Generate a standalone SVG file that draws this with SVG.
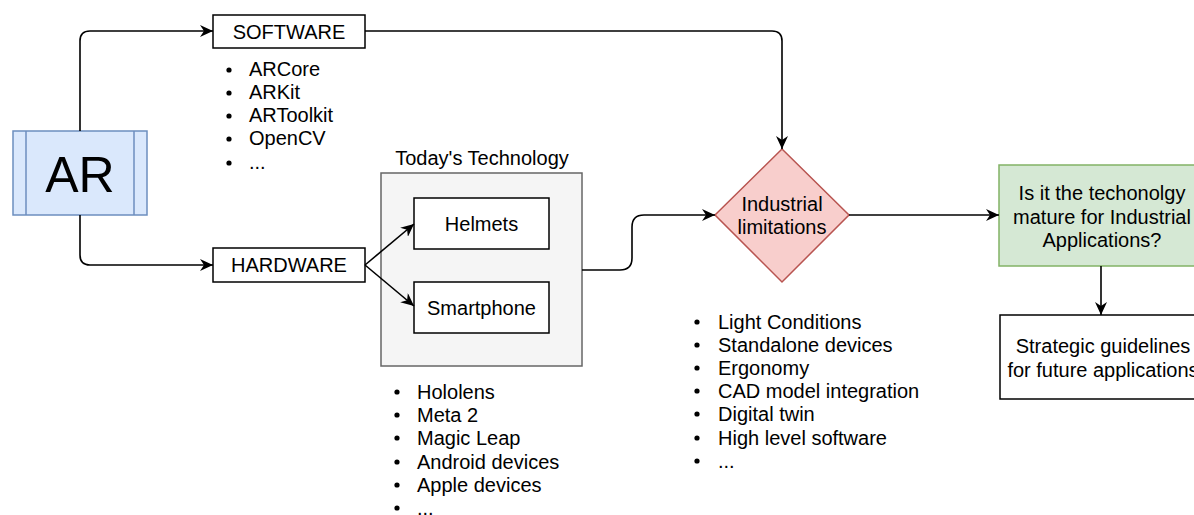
<svg xmlns="http://www.w3.org/2000/svg" width="1194" height="515" viewBox="0 0 1194 515">
<style>
text{font-family:"Liberation Sans",Arial,sans-serif;font-size:20px;fill:#000}
.c{text-anchor:middle}
.box{fill:#fff;stroke:#000;stroke-width:1.5}
.ln{fill:none;stroke:#000;stroke-width:1.6}
.arr{marker-end:url(#ah)}
.dot{fill:#000}
</style>
<defs>
<marker id="ah" markerUnits="userSpaceOnUse" markerWidth="14" markerHeight="12" refX="13" refY="6" orient="auto">
<path d="M0,0 L13,6 L0,12 L4,6 Z" fill="#000"/>
</marker>
</defs>
<rect width="1194" height="515" fill="#fff"/>
<g id="ar">
<rect x="13" y="131" width="134" height="84" fill="#dae8fc" stroke="#6c8ebf" stroke-width="1.5"/>
<line x1="26" y1="131" x2="26" y2="215" stroke="#6c8ebf" stroke-width="1.5"/>
<line x1="134" y1="131" x2="134" y2="215" stroke="#6c8ebf" stroke-width="1.5"/>
<text class="c" x="80" y="192" style="font-size:50px">AR</text>
</g>
<g id="software">
<rect class="box" x="213" y="15" width="152" height="33"/>
<text class="c" x="289" y="39">SOFTWARE</text>
</g>
<g id="software-list">
<circle class="dot" cx="229" cy="70" r="2.6"/><text x="249" y="76">ARCore</text>
<circle class="dot" cx="229" cy="93" r="2.6"/><text x="249" y="99">ARKit</text>
<circle class="dot" cx="229" cy="116" r="2.6"/><text x="249" y="122">ARToolkit</text>
<circle class="dot" cx="229" cy="139" r="2.6"/><text x="249" y="145">OpenCV</text>
<circle class="dot" cx="229" cy="163" r="2.6"/><text x="249" y="169">...</text>
</g>
<g id="hardware">
<rect class="box" x="213" y="248" width="152" height="34"/>
<text class="c" x="289" y="272">HARDWARE</text>
</g>
<g id="todays-technology">
<text class="c" x="482" y="165">Today's Technology</text>
<rect x="381" y="173" width="201" height="193" fill="#f5f5f5" stroke="#666" stroke-width="1.5"/>
</g>
<g id="helmets">
<rect class="box" x="414" y="198" width="135" height="51"/>
<text class="c" x="481.5" y="231">Helmets</text>
</g>
<g id="smartphone">
<rect class="box" x="414" y="282" width="135" height="51"/>
<text class="c" x="481.5" y="315">Smartphone</text>
</g>
<g id="hardware-list">
<circle class="dot" cx="397" cy="392" r="2.6"/><text x="417" y="399">Hololens</text>
<circle class="dot" cx="397" cy="415" r="2.6"/><text x="417" y="422">Meta 2</text>
<circle class="dot" cx="397" cy="438" r="2.6"/><text x="417" y="445">Magic Leap</text>
<circle class="dot" cx="397" cy="462" r="2.6"/><text x="417" y="469">Android devices</text>
<circle class="dot" cx="397" cy="485" r="2.6"/><text x="417" y="492">Apple devices</text>
<circle class="dot" cx="397" cy="508" r="2.6"/><text x="417" y="515">...</text>
</g>
<g id="industrial-limitations">
<polygon points="715,215 782,149 849,215 782,282" fill="#f8cecc" stroke="#b85450" stroke-width="1.5"/>
<text class="c" x="782" y="211">Industrial</text>
<text class="c" x="782" y="234">limitations</text>
</g>
<g id="limitations-list">
<circle class="dot" cx="697" cy="322" r="2.6"/><text x="718" y="329">Light Conditions</text>
<circle class="dot" cx="697" cy="345" r="2.6"/><text x="718" y="352">Standalone devices</text>
<circle class="dot" cx="697" cy="368" r="2.6"/><text x="718" y="375">Ergonomy</text>
<circle class="dot" cx="697" cy="391" r="2.6"/><text x="718" y="398">CAD model integration</text>
<circle class="dot" cx="697" cy="414" r="2.6"/><text x="718" y="421">Digital twin</text>
<circle class="dot" cx="697" cy="438" r="2.6"/><text x="718" y="445">High level software</text>
<circle class="dot" cx="697" cy="461" r="2.6"/><text x="718" y="468">...</text>
</g>
<g id="mature-question">
<rect x="999" y="165" width="206" height="101" fill="#d5e8d4" stroke="#82b366" stroke-width="1.5"/>
<text class="c" x="1102" y="200">Is it the techonolgy</text>
<text class="c" x="1102" y="224">mature for Industrial</text>
<text class="c" x="1102" y="247">Applications?</text>
</g>
<g id="strategic-guidelines">
<rect class="box" x="1000" y="315" width="206" height="84"/>
<text class="c" x="1103" y="353">Strategic guidelines</text>
<text class="c" x="1103" y="377">for future applications</text>
</g>
<g id="connectors">
<path class="ln arr" d="M80,131 L80,41 Q80,31 90,31 L213,31"/>
<path class="ln arr" d="M80,215 L80,255 Q80,265 90,265 L213,265"/>
<path class="ln arr" d="M365,31 L772,31 Q782,31 782,41 L782,149"/>
<path class="ln arr" d="M365,265 L414,224"/>
<path class="ln arr" d="M365,265 L414,306"/>
<path class="ln arr" d="M582,270 L620,270 Q632,270 632,258 L632,227 Q632,215 644,215 L715,215"/>
<path class="ln arr" d="M849,215 L999,215"/>
<path class="ln arr" d="M1101,266 L1101,315"/>
</g>
</svg>
